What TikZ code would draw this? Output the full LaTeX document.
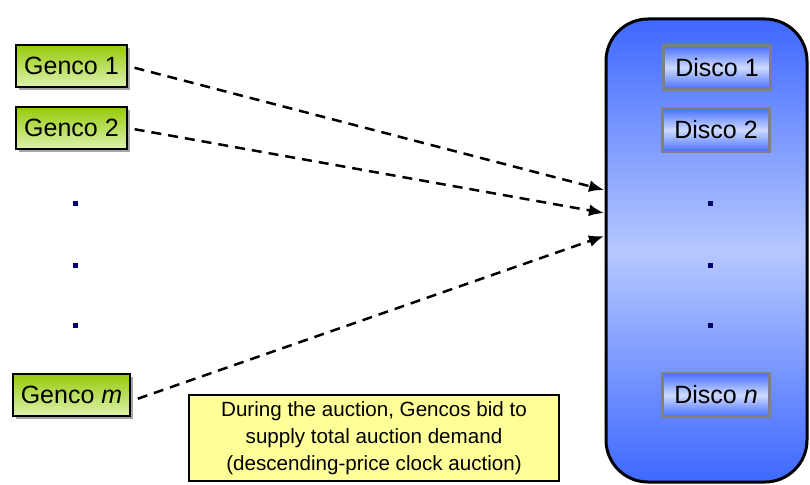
\documentclass[tikz,border=0pt]{standalone}
\usepackage{fontspec}
\setmainfont{Liberation Sans}
\usetikzlibrary{arrows.meta,shadows}
\definecolor{limetop}{RGB}{150,202,10}
\definecolor{limebot}{RGB}{222,242,175}
\definecolor{bluetop}{RGB}{62,104,255}
\definecolor{bluemid}{RGB}{182,200,255}
\definecolor{dblue}{RGB}{70,110,255}
\definecolor{dlight}{RGB}{205,218,255}
\definecolor{noteyellow}{RGB}{255,255,153}
\definecolor{dotblue}{RGB}{0,0,110}
\tikzset{
  genco/.style={draw=black, line width=2pt, top color=limetop, bottom color=limebot,
    drop shadow={shadow xshift=3pt, shadow yshift=-3pt, fill=black!35, opacity=1},
    inner xsep=8pt, minimum height=42pt, font=\fontsize{25}{28}\selectfont},
  disco/.style={draw=black!50, line width=2.5pt, top color=dblue, bottom color=dblue,
    middle color=dlight, inner xsep=10pt, minimum height=44pt, minimum width=107pt,
    font=\fontsize{25}{28}\selectfont},
  note/.style={draw=black, line width=2pt, fill=noteyellow, align=center,
    minimum width=370pt, minimum height=86pt, font=\fontsize{20.6}{27}\selectfont},
  arr/.style={dashed, dash pattern=on 10pt off 7pt, line width=2.5pt,
    -{Latex[length=15pt,width=12pt]}, shorten <=7pt},
  dotm/.style={fill=dotblue, draw=none, minimum size=5pt, inner sep=0pt}
}
\begin{document}
\begin{tikzpicture}[x=1pt,y=-1pt]
\useasboundingbox (0,0) rectangle (810,484);
\clip (0,0) rectangle (810,484);
% big disco region
\shade[top color=bluetop, bottom color=bluetop, middle color=bluemid, rounded corners=42pt]
  (606,19) rectangle (807,482);
\draw[line width=3pt, rounded corners=42pt] (606,19) rectangle (807,482);
% gencos
\node[genco] (g1) at (71.5,66) {Genco 1};
\node[genco] (g2) at (71.5,128) {Genco 2};
\node[genco] (gm) at (71.5,395) {Genco \textit{m}};
% discos
\node[disco] (d1) at (717,67.5) {Disco 1};
\node[disco] (d2) at (716,130) {Disco 2};
\node[disco] (dn) at (716,395) {Disco \textit{n}};
% dots
\node[dotm] (l1) at (75,203) {};
\node[dotm] (l2) at (75,265) {};
\node[dotm] (l3) at (75,325) {};
\node[dotm] (r1) at (710,203) {};
\node[dotm] (r2) at (710,265) {};
\node[dotm] (r3) at (710,325) {};
% note
\node[note] (nt) at (374,438) {During the auction, Gencos bid to\\supply total auction demand\\(descending-price clock auction)};
% arrow targets on box edge
\coordinate (t1) at (604,190);
\coordinate (t2) at (604,213);
\coordinate (t3) at (604,236);
\draw[arr] (g1.east) -- (t1);
\draw[arr] (g2.east) -- (t2);
\draw[arr] (gm.east) ++(0,6) -- (t3);
\end{tikzpicture}
\end{document}
